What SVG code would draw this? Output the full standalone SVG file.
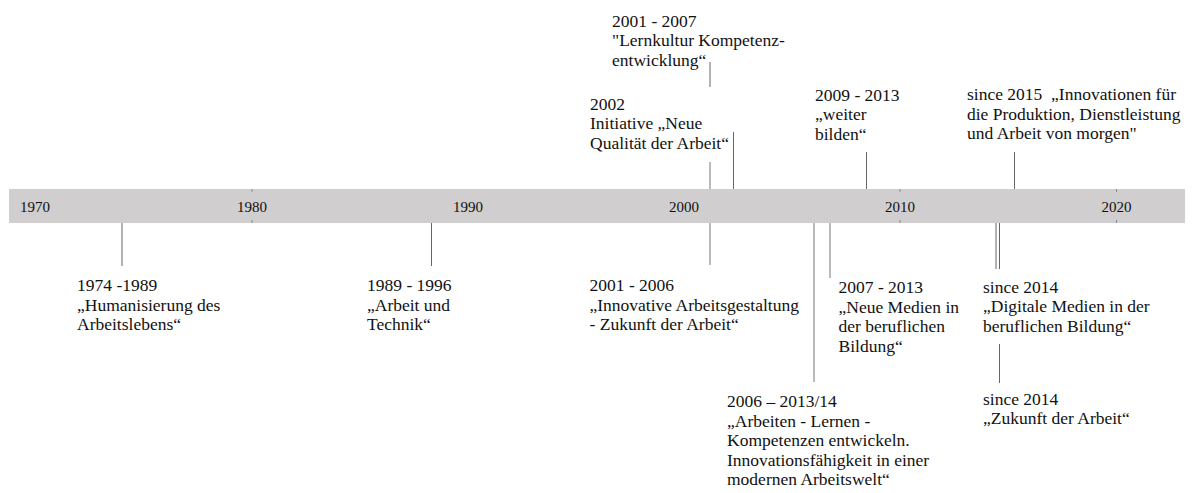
<svg xmlns="http://www.w3.org/2000/svg" width="1192" height="493" viewBox="0 0 1192 493">
<style>
text{font-family:"Liberation Serif","Times New Roman",serif;fill:#111;white-space:pre}
.lbl{font-size:17.5px}
.yr{font-size:15px;text-anchor:middle}
.dk{stroke:#666;stroke-width:1;fill:none}
.lt{stroke:#a3a3a3;stroke-width:1.5;fill:none}
.tk{stroke:#8a8a8a;stroke-width:1}
</style>
<rect width="1192" height="493" fill="#fff"/>
<g id="axis">
<rect x="9" y="189" width="1176" height="34" fill="#d0cece"/>
<path class="tk" d="M252 189v3M252 220v3M900 189v3M900 220v3M1116.5 189v3M1116.5 220v3"/>
<text class="yr" x="35" y="212">1970</text>
<text class="yr" x="252" y="212">1980</text>
<text class="yr" x="468" y="212">1990</text>
<text class="yr" x="684" y="212">2000</text>
<text class="yr" x="900" y="212">2010</text>
<text class="yr" x="1116.5" y="212">2020</text>
</g>
<g id="connectors">
<path class="dk" d="M122 223V266"/>
<path class="dk" d="M431.5 223V266"/>
<path class="lt" d="M710 223V265"/>
<path class="lt" d="M814 223V382"/>
<path class="lt" d="M830 223V278"/>
<path class="dk" d="M996 223V269"/>
<path class="dk" d="M999.5 223V269M999.5 344V383"/>
<path class="dk" d="M710 62V87"/>
<path class="lt" d="M710 162V189"/>
<path class="dk" d="M733.5 132V189"/>
<path class="dk" d="M866.5 152V189"/>
<path class="dk" d="M1014.5 152V189"/>
</g>
<g id="n2001-2007"><text class="lbl" x="612" y="26.5">2001 - 2007</text><text class="lbl" x="612" y="46">"Lernkultur Kompetenz-</text><text class="lbl" x="612" y="65.5">entwicklung“</text></g>
<g id="n2002"><text class="lbl" x="590" y="109.5">2002</text><text class="lbl" x="590" y="129">Initiative „Neue</text><text class="lbl" x="590" y="148.5">Qualität der Arbeit“</text></g>
<g id="n2009-2013"><text class="lbl" x="815" y="100.5">2009 - 2013</text><text class="lbl" x="815" y="120">„weiter</text><text class="lbl" x="815" y="139.5">bilden“</text></g>
<g id="n2015"><text class="lbl" x="967" y="100">since 2015  „Innovationen für</text><text class="lbl" x="967" y="119.5">die Produktion, Dienstleistung</text><text class="lbl" x="967" y="139">und Arbeit von morgen"</text></g>
<g id="n1974-1989"><text class="lbl" x="77" y="291">1974 -1989</text><text class="lbl" x="77" y="310.5">„Humanisierung des</text><text class="lbl" x="77" y="330">Arbeitslebens“</text></g>
<g id="n1989-1996"><text class="lbl" x="367" y="291">1989 - 1996</text><text class="lbl" x="367" y="310.5">„Arbeit und</text><text class="lbl" x="367" y="330">Technik“</text></g>
<g id="n2001-2006"><text class="lbl" x="589.5" y="291">2001 - 2006</text><text class="lbl" x="589.5" y="310.5">„Innovative Arbeitsgestaltung</text><text class="lbl" x="589.5" y="330">- Zukunft der Arbeit“</text></g>
<g id="n2007-2013"><text class="lbl" x="838.5" y="293">2007 - 2013</text><text class="lbl" x="838.5" y="312.5">„Neue Medien in</text><text class="lbl" x="838.5" y="332">der beruflichen</text><text class="lbl" x="838.5" y="351.5">Bildung“</text></g>
<g id="n2006-2014"><text class="lbl" x="727" y="407">2006 – 2013/14</text><text class="lbl" x="727" y="426.5">„Arbeiten - Lernen -</text><text class="lbl" x="727" y="446">Kompetenzen entwickeln.</text><text class="lbl" x="727" y="465.5">Innovationsfähigkeit in einer</text><text class="lbl" x="727" y="485">modernen Arbeitswelt“</text></g>
<g id="n2014-digital"><text class="lbl" x="983" y="292.5">since 2014</text><text class="lbl" x="983" y="312">„Digitale Medien in der</text><text class="lbl" x="983" y="331.5">beruflichen Bildung“</text></g>
<g id="n2014-zukunft"><text class="lbl" x="983" y="404.5">since 2014</text><text class="lbl" x="983" y="424">„Zukunft der Arbeit“</text></g>
</svg>
